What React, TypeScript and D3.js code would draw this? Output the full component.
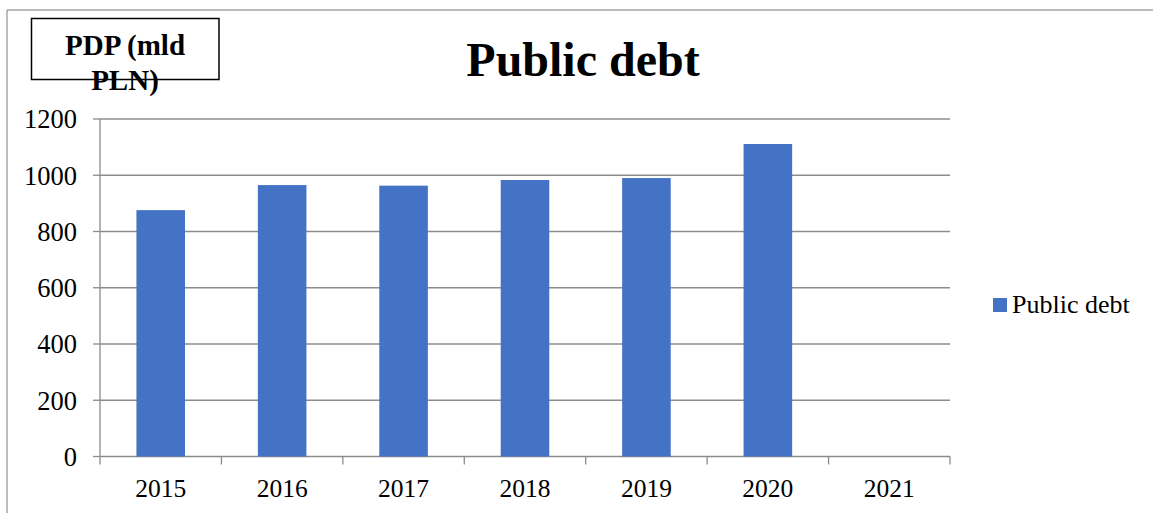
import React from "react";
import * as d3 from "d3";

const categories = ["2015", "2016", "2017", "2018", "2019", "2020", "2021"];
const values: (number | null)[] = [876, 965, 963, 983, 990, 1111, null];
const yTicks = [0, 200, 400, 600, 800, 1000, 1200];
const seriesName = "Public debt";

export default function App() {
  const W = 1153, H = 513;
  const x0 = 100, x1 = 950, yTop = 119, yBot = 456.5;
  const x = d3.scaleBand<string>().domain(categories).range([x0, x1]).padding(0);
  const y = d3.scaleLinear().domain([0, 1200]).range([yBot, yTop]);
  const bw = x.bandwidth() * 0.4;
  const font = "'Liberation Serif', 'Times New Roman', serif";
  const grid = "#8c8c8c";
  return (
    <svg width={W} height={H} style={{ position: "absolute", left: 0, top: 0, background: "#fff" }} fontFamily={font}>
      <line x1={7} y1={10} x2={1153} y2={10} stroke="#a6a6a6" strokeWidth={1.5} />
      <line x1={7} y1={10} x2={7} y2={513} stroke="#a6a6a6" strokeWidth={1.5} />
      {yTicks.map((t) => (
        <g key={t}>
          <line x1={x0} x2={x1} y1={y(t)} y2={y(t)} stroke={grid} strokeWidth={1.3} />
          <line x1={x0 - 7} x2={x0} y1={y(t)} y2={y(t)} stroke={grid} strokeWidth={1.3} />
          <text x={77} y={y(t)} dy="0.35em" textAnchor="end" fontSize={26.5} fill="#000">{t}</text>
        </g>
      ))}
      <line x1={x0} x2={x0} y1={yTop} y2={yBot + 8} stroke={grid} strokeWidth={1.3} />
      {categories.map((c) => (
        <line key={"t" + c} x1={(x(c) as number) + x.bandwidth()} x2={(x(c) as number) + x.bandwidth()} y1={yBot} y2={yBot + 8} stroke={grid} strokeWidth={1.3} />
      ))}
      {categories.map((c, i) => {
        const v = values[i];
        if (v == null) return null;
        const cx = (x(c) as number) + x.bandwidth() / 2;
        return <rect key={c} x={cx - bw / 2} y={y(v)} width={bw} height={yBot - y(v)} fill="#4472C4" />;
      })}
      {categories.map((c) => (
        <text key={"l" + c} x={(x(c) as number) + x.bandwidth() / 2} y={497} textAnchor="middle" fontSize={25.5} fill="#000">{c}</text>
      ))}
      <text x={583} y={76} textAnchor="middle" fontSize={48} fontWeight="bold" fill="#000">Public debt</text>
      <rect x={31.5} y={18.5} width={187.5} height={61} fill="#fff" stroke="#000" strokeWidth={1.5} />
      <text x={125} y={55} textAnchor="middle" fontSize={29} fontWeight="bold" fill="#000">PDP (mld</text>
      <text x={125} y={90} textAnchor="middle" fontSize={29} fontWeight="bold" fill="#000">PLN)</text>
      <rect x={993} y={298} width={14} height={14} fill="#4472C4" />
      <text x={1012} y={313} fontSize={26} fill="#000">{seriesName}</text>
    </svg>
  );
}
